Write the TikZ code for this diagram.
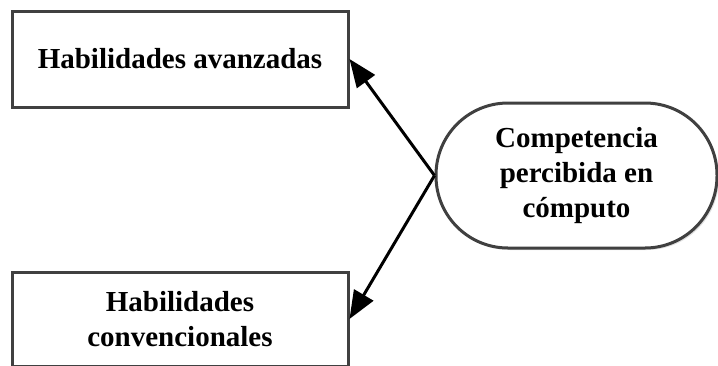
\documentclass[tikz,border=0pt]{standalone}
\usepackage{fontspec}
\setmainfont{Liberation Serif}
\usetikzlibrary{arrows.meta,shadows}
\tikzset{
  boxnode/.style={draw=black!75, line width=3pt, fill=white, rectangle,
    font=\fontsize{29}{35}\selectfont\bfseries, align=center,
    drop shadow={shadow xshift=2pt, shadow yshift=-2pt, fill=black!20, opacity=0.6}},
  ovalnode/.style={boxnode, rounded corners=72pt},
  conn/.style={line width=3pt, black, -{Triangle[length=28pt,width=22pt]}}
}
\begin{document}
\begin{tikzpicture}[x=1pt,y=-1pt]
\useasboundingbox (0,0) rectangle (718,365);
\node[boxnode, minimum width=336pt, minimum height=96pt] (top) at (180,59) {Habilidades avanzadas};
\node[boxnode, minimum width=336pt, minimum height=94pt] (bot) at (180,319) {Habilidades\\convencionales};
\node[ovalnode, minimum width=281pt, minimum height=145pt] (comp) at (576.5,175.5) {Competencia\\percibida en\\cómputo};
\draw[conn] (comp.west) -- (top.east);
\draw[conn] (comp.west) -- (bot.east);
\end{tikzpicture}
\end{document}
